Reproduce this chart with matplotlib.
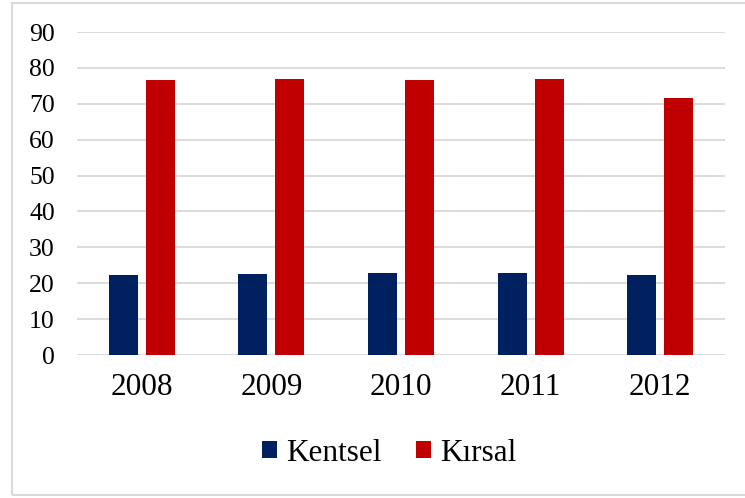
import numpy as np
import matplotlib.pyplot as plt
from matplotlib.patches import Rectangle

years = ["2008", "2009", "2010", "2011", "2012"]
kentsel = [22.2, 22.7, 22.9, 22.8, 22.4]
kirsal = [76.6, 76.9, 76.7, 76.9, 71.6]

plt.rcParams['font.family'] = ['Liberation Serif', 'DejaVu Serif']

fig = plt.figure(figsize=(7.45, 4.98), dpi=100)
# light frame around the chart area (right edge runs off the picture)
fig.patches.append(Rectangle((11.5 / 745, 3.5 / 498), 745 / 745, 491 / 498,
                             transform=fig.transFigure, fill=False,
                             edgecolor="#D9D9D9", linewidth=1.5))

ax = fig.add_axes([77 / 745, 1 - 355 / 498, 648 / 745, 323 / 498])

x = np.arange(len(years))
w = 0.224
off = 0.143
ax.bar(x - off, kentsel, w, color="#002060", label="Kentsel", zorder=3)
ax.bar(x + off, kirsal, w, color="#C00000", label="Kırsal", zorder=3)

ax.set_xlim(-0.5, len(years) - 0.5)
ax.set_ylim(0, 90)
ax.set_yticks(np.arange(0, 91, 10))
ax.set_xticks(x)
ax.set_xticklabels(years)
ax.yaxis.grid(True, color="#D9D9D9", linewidth=1.3, zorder=0)
ax.set_axisbelow(True)
for s in ax.spines.values():
    s.set_visible(False)
ax.tick_params(axis="y", length=0, pad=16, labelsize=18.5)
ax.tick_params(axis="x", length=0, pad=13, labelsize=22.5)

fig.legend(loc="center", bbox_to_anchor=(389 / 745, 1 - 453 / 498), ncol=2,
           frameon=False, fontsize=22.5, handlelength=0.5, handleheight=0.5,
           handletextpad=0.27, columnspacing=1.1)

fig.savefig("out.png", dpi=100)
